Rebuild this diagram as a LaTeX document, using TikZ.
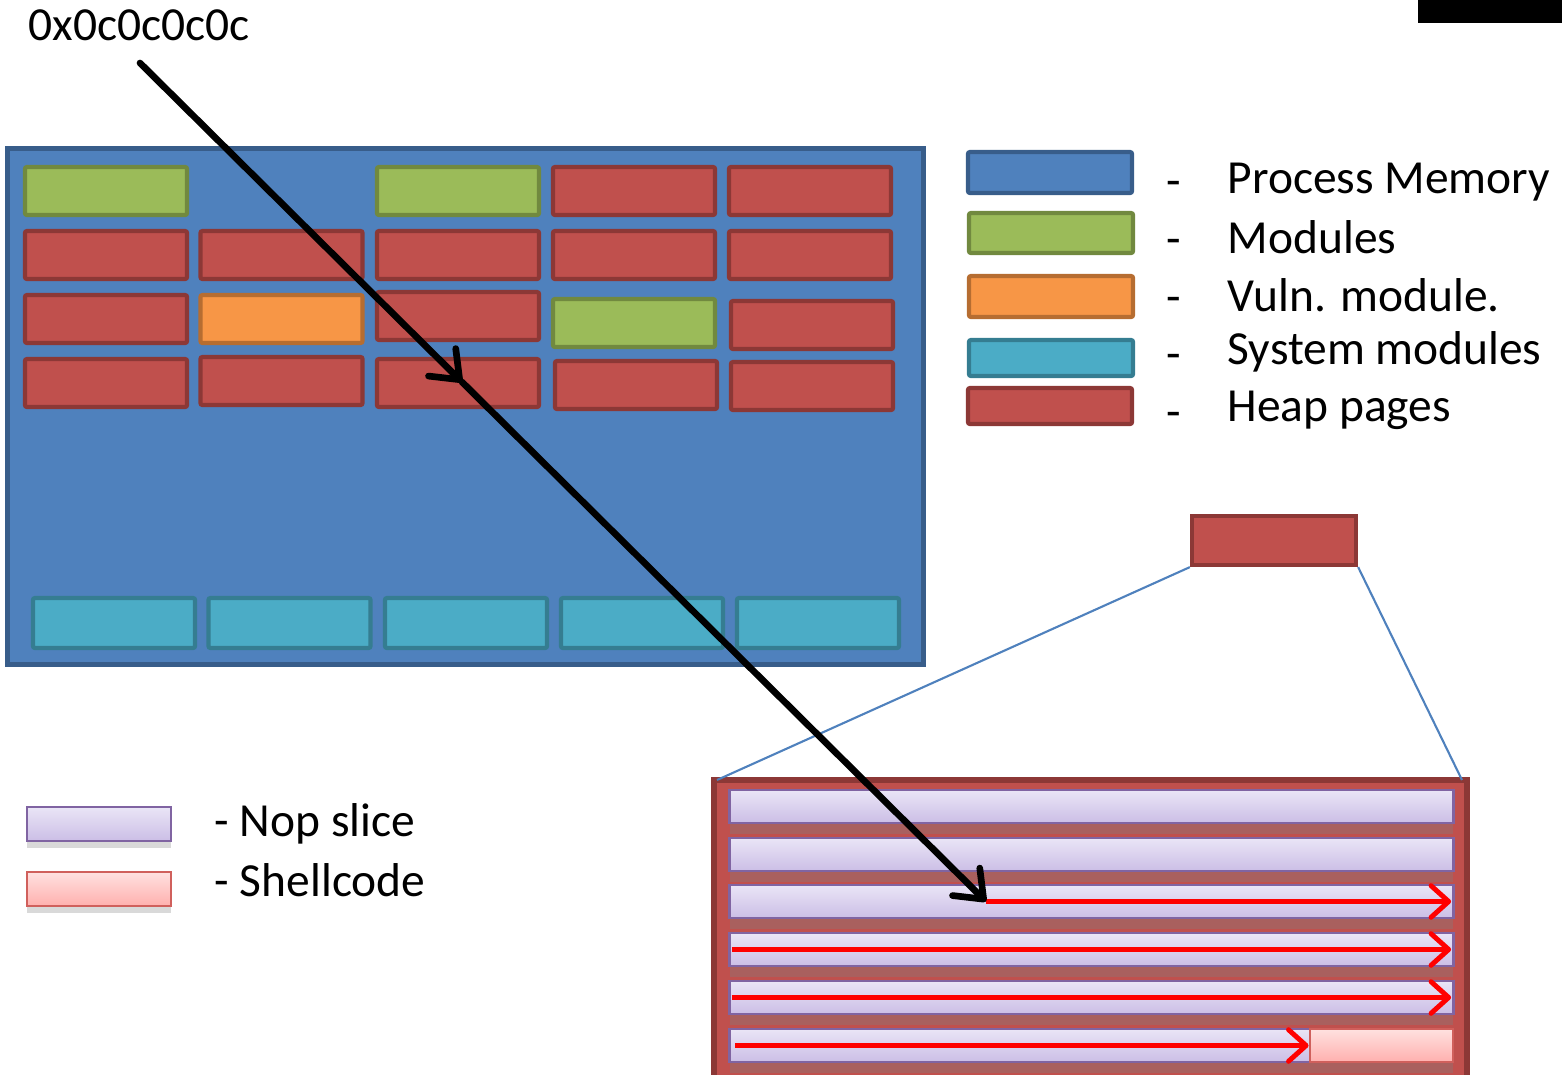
\documentclass[tikz,border=0pt]{standalone}
\usepackage{fontspec}
\setmainfont{Carlito}
\usepackage{tikz}
\usetikzlibrary{arrows.meta,shadows}

\definecolor{memblue}{HTML}{4F81BD}
\definecolor{memblueD}{HTML}{385D8A}
\definecolor{modgreen}{HTML}{9BBB59}
\definecolor{modgreenD}{HTML}{71893F}
\definecolor{vulnorange}{HTML}{F79646}
\definecolor{vulnorangeD}{HTML}{B66D31}
\definecolor{syscyan}{HTML}{4BACC6}
\definecolor{syscyanD}{HTML}{357D91}
\definecolor{heapred}{HTML}{C0504D}
\definecolor{heapredD}{HTML}{8C3836}
\definecolor{noptop}{HTML}{EAE5F6}
\definecolor{nopbot}{HTML}{CBBEE6}
\definecolor{nopedge}{HTML}{8064A2}
\definecolor{shelltop}{HTML}{FFE1E0}
\definecolor{shellbot}{HTML}{FFB0AE}
\definecolor{shelledge}{HTML}{D0605C}

\begin{document}
\begin{tikzpicture}[x=0.01cm,y=-0.01cm,
	blk/.style={rectangle,line width=1.2pt,rounded corners=0.6pt,inner sep=0pt,
		minimum width=1.62cm,minimum height=0.48cm},
	procbox/.style={blk,fill=memblue,draw=memblueD},
	modbox/.style={blk,fill=modgreen,draw=modgreenD},
	vulnbox/.style={blk,fill=vulnorange,draw=vulnorangeD},
	sysbox/.style={blk,fill=syscyan,draw=syscyanD,minimum height=0.5cm},
	heapbox/.style={blk,fill=heapred,draw=heapredD},
	nopbox/.style={rectangle,draw=nopedge,line width=0.8pt,top color=noptop,bottom color=nopbot,
		inner sep=0pt,minimum height=0.33cm},
	shellbox/.style={rectangle,draw=shelledge,line width=0.8pt,top color=shelltop,bottom color=shellbot,
		inner sep=0pt,minimum height=0.33cm},
	txt/.style={anchor=west,inner sep=0pt,font=\fontsize{13.5}{16}\selectfont},
	bigarrow/.style={-{Straight Barb[length=7pt,width=11pt,round]},line width=1.9pt,line cap=round},
	redarrow/.style={red,line width=1.4pt,-{Straight Barb[length=5pt,width=9pt,round]}},
	zoomline/.style={memblue,line width=0.6pt}
	]
	\useasboundingbox (0,0) rectangle (1562,1075);

	% process memory
	\node[procbox,line width=1.4pt,rounded corners=0pt,minimum width=9.15cm,minimum height=5.15cm] (procmem) at (465.5,406.5) {};

	\node[modbox]  (m11) at (106,191)   {};
	\node[modbox]  (m13) at (458,191)   {};
	\node[heapbox] (h14) at (634,191)   {};
	\node[heapbox] (h15) at (810,191)   {};

	\node[heapbox] (h21) at (106,255)   {};
	\node[heapbox] (h22) at (281.5,255) {};
	\node[heapbox] (h23) at (458,255)   {};
	\node[heapbox] (h24) at (634,255)   {};
	\node[heapbox] (h25) at (810,255)   {};

	\node[heapbox] (h31) at (106,319)   {};
	\node[vulnbox] (v32) at (281.5,319) {};
	\node[heapbox] (h33) at (458,316)   {};
	\node[modbox]  (m34) at (634,323)   {};
	\node[heapbox] (h35) at (812,325)   {};

	\node[heapbox] (h41) at (106,383)   {};
	\node[heapbox] (h42) at (281.5,381) {};
	\node[heapbox] (h43) at (458,383)   {};
	\node[heapbox] (h44) at (636,385)   {};
	\node[heapbox] (h45) at (812,386)   {};

	\node[sysbox]  (s1) at (114,623)   {};
	\node[sysbox]  (s2) at (289.5,623) {};
	\node[sysbox]  (s3) at (466,623)   {};
	\node[sysbox]  (s4) at (642,623)   {};
	\node[sysbox]  (s5) at (818,623)   {};

	% legend
	\node[procbox,minimum width=1.64cm,minimum height=0.41cm] (keyproc) at (1050,172.5) {};
	\node[modbox,minimum width=1.64cm,minimum height=0.40cm]  (keymod)  at (1051,233)   {};
	\node[vulnbox,minimum width=1.64cm,minimum height=0.41cm] (keyvuln) at (1051,296.5) {};
	\node[sysbox,minimum width=1.64cm,minimum height=0.36cm]  (keysys)  at (1051,358)   {};
	\node[heapbox,minimum width=1.64cm,minimum height=0.36cm] (keyheap) at (1050,406)   {};

	\node[txt] (dproc) at (1166,189) {-};
	\node[txt] (dmod)  at (1166,247) {-};
	\node[txt] (dvuln) at (1166,305) {-};
	\node[txt] (dsys)  at (1166,362) {-};
	\node[txt] (dheap) at (1166,420) {-};

	\node[txt] (lproc) at (1227,182) {Process Memory};
	\node[txt] (lmod)  at (1227,237) {Modules};
	\node[txt] (lvuln) at (1227,295) {Vuln. module.};
	\node[txt] (lsys)  at (1227,352) {System modules};
	\node[txt] (lheap) at (1227,410) {Heap pages};

	% zoomed heap page
	\node[heapbox,minimum width=1.64cm,minimum height=0.49cm,rounded corners=0pt] (page) at (1274,540.5) {};
	\node[heapbox,line width=1.6pt,rounded corners=0pt,minimum width=7.53cm,minimum height=3.4cm] (heap) at (1090.5,950) {};
	\coordinate (heapNW) at (717,780);
	\coordinate (heapNE) at (1462,780);
	\path[zoomline] (page.south west) edge (heapNW);
	\path[zoomline] (page.south east) edge (heapNE);

	\node[nopbox,minimum width=7.23cm,drop shadow={shadow xshift=0pt,shadow yshift=-3pt,opacity=0.35}] (nop1) at (1091.5,806.5)  {};
	\node[nopbox,minimum width=7.23cm,drop shadow={shadow xshift=0pt,shadow yshift=-3pt,opacity=0.35}] (nop2) at (1091.5,854.5)  {};
	\node[nopbox,minimum width=7.23cm,drop shadow={shadow xshift=0pt,shadow yshift=-3pt,opacity=0.35}] (nop3) at (1091.5,901.5)  {};
	\node[nopbox,minimum width=7.23cm,drop shadow={shadow xshift=0pt,shadow yshift=-3pt,opacity=0.35}] (nop4) at (1091.5,949.5)  {};
	\node[nopbox,minimum width=7.23cm,drop shadow={shadow xshift=0pt,shadow yshift=-3pt,opacity=0.35}] (nop5) at (1091.5,997.5)  {};
	\node[nopbox,minimum width=5.80cm,drop shadow={shadow xshift=0pt,shadow yshift=-3pt,opacity=0.35}] (nop6) at (1020,1045.5)   {};
	\node[shellbox,minimum width=1.43cm,drop shadow={shadow xshift=0pt,shadow yshift=-3pt,opacity=0.35}] (shell) at (1381.5,1045.5) {};

	% nop / shellcode legend
	\node[nopbox,minimum width=1.44cm,minimum height=0.34cm,drop shadow={shadow xshift=0pt,shadow yshift=-2pt,opacity=0.3}] (keynop) at (99,824) {};
	\node[shellbox,minimum width=1.44cm,minimum height=0.34cm,drop shadow={shadow xshift=0pt,shadow yshift=-2pt,opacity=0.3}] (keyshell) at (99,889) {};
	\node[txt] (lnop)   at (214,824) {- Nop slice};
	\node[txt] (lshell) at (214,880) {- Shellcode};

	% address and jump
	\node[txt] (addr) at (28,25) {0x0c0c0c0c};
	\node[fill=black,inner sep=0pt,minimum width=1.44cm,minimum height=0.23cm] (bar) at (1490,11.5) {};

	\coordinate (start) at (140,63);
	\coordinate (mid)   at (462,382);
	\coordinate (tip)   at (986,901.5);

	\path[redarrow] (tip) edge ([xshift=-1pt]nop3.east);
	\path[redarrow] ([xshift=1pt]nop4.west) edge ([xshift=-1pt]nop4.east);
	\path[redarrow] ([xshift=1pt]nop5.west) edge ([xshift=-1pt]nop5.east);
	\path[redarrow] ([xshift=2pt]nop6.west) edge (shell.west);

	\path[bigarrow] (start) edge (mid);
	\path[bigarrow] (mid) edge (tip);

\end{tikzpicture}
\end{document}
